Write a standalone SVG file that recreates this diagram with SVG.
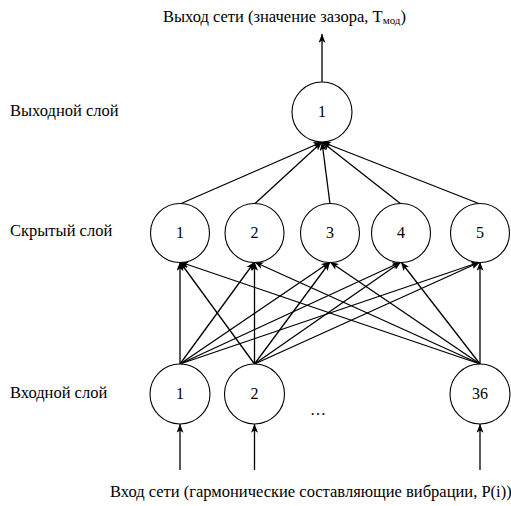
<svg xmlns="http://www.w3.org/2000/svg" width="511" height="506" viewBox="0 0 511 506">
<style>
text{font-family:"Liberation Serif","Times New Roman",serif;fill:#000}
.lbl{font-size:16.5px}
.num{font-size:16px;text-anchor:middle}
circle{fill:#fff;stroke:#000;stroke-width:1.1}
#connectors line{stroke:#000;stroke-width:1.3;marker-end:url(#arr)}
</style>
<defs>
<marker id="arr" viewBox="0 0 10 8" refX="10" refY="4" markerWidth="10" markerHeight="7" markerUnits="userSpaceOnUse" orient="auto">
<path d="M0,0 L10,4 L0,8 L2.5,4 Z" fill="#000"/>
</marker>
</defs>
<rect width="511" height="506" fill="#fff"/>
<g id="labels">
<text class="lbl" x="163" y="22">Выход сети (значение зазора, T<tspan font-size="11" dy="2">мод</tspan><tspan dy="-2">)</tspan></text>
<text class="lbl" x="10" y="116">Выходной слой</text>
<text class="lbl" x="10" y="236">Скрытый слой</text>
<text class="lbl" x="10" y="398">Входной слой</text>
<text class="lbl" x="110" y="497">Вход сети (гармонические составляющие вибрации, P(i))</text>
<text class="num" x="318" y="415">…</text>
</g>
<g id="connectors">
<line x1="322" y1="82" x2="322" y2="34"/>
<line x1="180" y1="204" x2="322" y2="142"/>
<line x1="254.5" y1="204" x2="322" y2="142"/>
<line x1="330" y1="204" x2="322" y2="142"/>
<line x1="401" y1="204" x2="322" y2="142"/>
<line x1="480" y1="204" x2="322" y2="142"/>
<line x1="180" y1="364" x2="180" y2="262"/>
<line x1="180" y1="364" x2="254.5" y2="262"/>
<line x1="180" y1="364" x2="330" y2="262"/>
<line x1="180" y1="364" x2="401" y2="262"/>
<line x1="180" y1="364" x2="480" y2="262"/>
<line x1="254.5" y1="364" x2="180" y2="262"/>
<line x1="254.5" y1="364" x2="254.5" y2="262"/>
<line x1="254.5" y1="364" x2="330" y2="262"/>
<line x1="254.5" y1="364" x2="401" y2="262"/>
<line x1="254.5" y1="364" x2="480" y2="262"/>
<line x1="480" y1="364" x2="180" y2="262"/>
<line x1="480" y1="364" x2="254.5" y2="262"/>
<line x1="480" y1="364" x2="330" y2="262"/>
<line x1="480" y1="364" x2="401" y2="262"/>
<line x1="480" y1="364" x2="480" y2="262"/>
<line x1="180" y1="470" x2="180" y2="424"/>
<line x1="254.5" y1="470" x2="254.5" y2="424"/>
<line x1="480" y1="470" x2="480" y2="424"/>
</g>
<g id="out1"><circle cx="322" cy="112" r="30"/><text class="num" x="322" y="117">1</text></g>
<g id="hid1"><circle cx="180" cy="233" r="29.5"/><text class="num" x="180" y="238">1</text></g>
<g id="hid2"><circle cx="254.5" cy="233" r="29.5"/><text class="num" x="254.5" y="238">2</text></g>
<g id="hid3"><circle cx="330" cy="233" r="29.5"/><text class="num" x="330" y="238">3</text></g>
<g id="hid4"><circle cx="401" cy="233" r="29.5"/><text class="num" x="401" y="238">4</text></g>
<g id="hid5"><circle cx="480" cy="233" r="29.5"/><text class="num" x="480" y="238">5</text></g>
<g id="in1"><circle cx="180" cy="394" r="30"/><text class="num" x="180" y="399">1</text></g>
<g id="in2"><circle cx="254.5" cy="394" r="30"/><text class="num" x="254.5" y="399">2</text></g>
<g id="in36"><circle cx="480" cy="394" r="30"/><text class="num" x="480" y="399">36</text></g>
</svg>
